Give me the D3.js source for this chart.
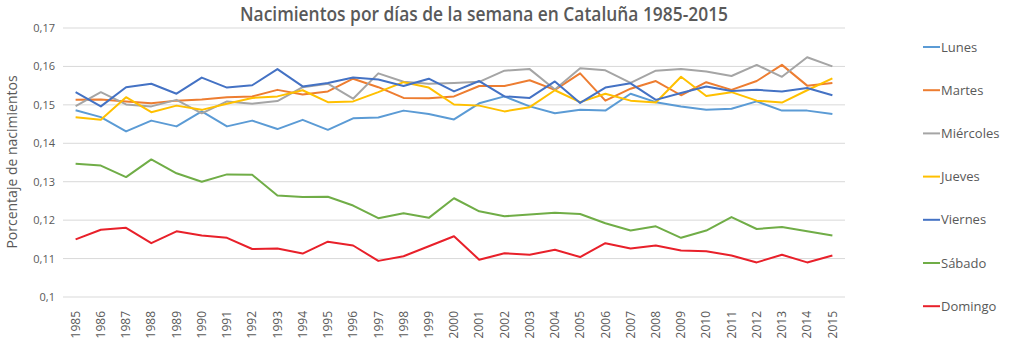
<!DOCTYPE html>
<html lang="es">
<head>
<meta charset="utf-8">
<title>Nacimientos por días de la semana</title>
<script src="https://cdn.jsdelivr.net/npm/d3@7"></script>
<style>
  body { margin: 0; background: #fff; }
  svg text { font-family: "Open Sans", "Noto Sans", sans-serif; fill: #595959; }
</style>
</head>
<body>
<svg id="chart" width="1024" height="348"></svg>
<script>
// data
var years = d3.range(1985, 2016).map(String);
var yTicks = [0.10, 0.11, 0.12, 0.13, 0.14, 0.15, 0.16, 0.17];

var lunes = [0.1486, 0.1468, 0.1431, 0.1459, 0.1444, 0.1483, 0.1444, 0.1459, 0.1437, 0.1461, 0.1435,
  0.1465, 0.1467, 0.1485, 0.1476, 0.1462, 0.1504, 0.1522, 0.1496, 0.1478, 0.1487,
  0.1485, 0.1529, 0.1507, 0.1496, 0.1487, 0.1490, 0.1509, 0.1485, 0.1485, 0.1476];
var martes = [0.1513, 0.1514, 0.1509, 0.1504, 0.1511, 0.1514, 0.1520, 0.1522, 0.1539, 0.1527, 0.1535,
  0.1568, 0.1546, 0.1518, 0.1517, 0.1522, 0.1549, 0.1549, 0.1564, 0.1539, 0.1582,
  0.1511, 0.1542, 0.1562, 0.1525, 0.1559, 0.1539, 0.1562, 0.1604, 0.1550, 0.1557];
var miercoles = [0.1497, 0.1533, 0.1501, 0.1496, 0.1513, 0.1478, 0.1509, 0.1503, 0.1510, 0.1546, 0.1555,
  0.1516, 0.1582, 0.1560, 0.1555, 0.1557, 0.1560, 0.1589, 0.1593, 0.1540, 0.1595,
  0.1590, 0.1557, 0.1589, 0.1593, 0.1587, 0.1575, 0.1604, 0.1573, 0.1624, 0.1600];
var jueves = [0.1468, 0.1461, 0.1520, 0.1481, 0.1498, 0.1487, 0.1503, 0.1518, 0.1522, 0.1538, 0.1507,
  0.1509, 0.1533, 0.1559, 0.1545, 0.1501, 0.1498, 0.1483, 0.1494, 0.1538, 0.1507,
  0.1529, 0.1511, 0.1506, 0.1573, 0.1523, 0.1533, 0.1511, 0.1506, 0.1538, 0.1569];
var viernes = [0.1533, 0.1496, 0.1546, 0.1555, 0.1529, 0.1571, 0.1545, 0.1551, 0.1593, 0.1548, 0.1557,
  0.1571, 0.1566, 0.1549, 0.1568, 0.1535, 0.1562, 0.1522, 0.1518, 0.1561, 0.1505,
  0.1545, 0.1556, 0.1513, 0.1531, 0.1548, 0.1536, 0.1539, 0.1535, 0.1544, 0.1525];
var sabado = [0.1347, 0.1342, 0.1312, 0.1358, 0.1322, 0.1300, 0.1319, 0.1318, 0.1264, 0.1260, 0.1261,
  0.1238, 0.1205, 0.1218, 0.1206, 0.1257, 0.1223, 0.1210, 0.1215, 0.1219, 0.1216,
  0.1192, 0.1173, 0.1184, 0.1154, 0.1173, 0.1208, 0.1177, 0.1182, 0.1171, 0.1160];
var domingo = [0.1150, 0.1175, 0.1180, 0.1140, 0.1171, 0.1160, 0.1154, 0.1125, 0.1126, 0.1113, 0.1144,
  0.1134, 0.1094, 0.1106, 0.1132, 0.1158, 0.1097, 0.1114, 0.1110, 0.1123, 0.1104,
  0.1140, 0.1126, 0.1134, 0.1121, 0.1119, 0.1108, 0.1090, 0.1110, 0.1090, 0.1108];

var seriesNames = ["Lunes", "Martes", "Miércoles", "Jueves", "Viernes", "Sábado", "Domingo"];
var seriesColors = ["#5B9BD5", "#ED7D31", "#A5A5A5", "#FFC000", "#4472C4", "#70AD47", "#E8202A"];
var seriesValues = [lunes, martes, miercoles, jueves, viernes, sabado, domingo];

var series = seriesNames.map(function(name, i) {
  return { name: name, color: seriesColors[i], values: seriesValues[i] };
});

var svg = d3.select("#chart");
var plotLeft = 63, plotRight = 845, plotTop = 28, plotBottom = 297;

var x = d3.scaleBand().domain(years).range([plotLeft, plotRight]);
var y = d3.scaleLinear().domain([0.10, 0.17]).range([plotBottom, plotTop]);

// gridlines
svg.append("g")
  .selectAll("line")
  .data(yTicks)
  .enter().append("line")
  .attr("x1", plotLeft).attr("x2", plotRight)
  .attr("y1", function(d) { return y(d); })
  .attr("y2", function(d) { return y(d); })
  .attr("stroke", "#D9D9D9")
  .attr("stroke-width", 1);

// y axis labels
var yAxis = d3.axisLeft(y)
  .tickValues(yTicks)
  .tickSize(0)
  .tickPadding(8)
  .tickFormat(function(d) { return d3.format(".2~f")(d).replace(".", ","); });

svg.append("g")
  .attr("transform", "translate(" + plotLeft + ",0)")
  .call(yAxis)
  .call(function(g) { g.select(".domain").remove(); })
  .selectAll("text")
  .style("font-family", "'Open Sans', sans-serif")
  .style("font-size", "11px")
  .style("fill", "#595959");

// x axis labels
var xAxis = d3.axisBottom(x).tickSize(0).tickPadding(0);
svg.append("g")
  .attr("transform", "translate(0," + plotBottom + ")")
  .call(xAxis)
  .call(function(g) { g.select(".domain").remove(); })
  .selectAll("text")
  .attr("transform", "rotate(-90)")
  .attr("x", -14)
  .attr("y", 0)
  .attr("dy", "0.35em")
  .style("text-anchor", "end")
  .style("font-family", "'Open Sans', sans-serif")
  .style("font-size", "12px")
  .style("fill", "#595959");

// lines
var line = d3.line()
  .x(function(d, i) { return x(years[i]) + x.bandwidth() / 2; })
  .y(function(d) { return y(d); });

svg.append("g")
  .selectAll("path")
  .data(series)
  .enter().append("path")
  .attr("d", function(d) { return line(d.values); })
  .attr("fill", "none")
  .attr("stroke", function(d) { return d.color; })
  .attr("stroke-width", 2)
  .attr("stroke-linejoin", "round");

// y axis title
svg.append("text")
  .attr("transform", "translate(17,162) rotate(-90)")
  .attr("text-anchor", "middle")
  .style("font-size", "14px")
  .text("Porcentaje de nacimientos");

// title
svg.append("text")
  .attr("x", 484)
  .attr("y", 21)
  .attr("text-anchor", "middle")
  .attr("textLength", 488)
  .attr("lengthAdjust", "spacingAndGlyphs")
  .style("font-size", "19px")
  .style("font-weight", "600")
  .text("Nacimientos por días de la semana en Cataluña 1985-2015");

// legend
var legend = svg.append("g")
  .selectAll("g")
  .data(series)
  .enter().append("g")
  .attr("transform", function(d, i) { return "translate(923," + (47 + i * 43.2) + ")"; });

legend.append("line")
  .attr("x1", 0).attr("x2", 17)
  .attr("stroke", function(d) { return d.color; })
  .attr("stroke-width", 2);

legend.append("text")
  .attr("x", 18)
  .attr("dy", "0.35em")
  .style("font-size", "13px")
  .text(function(d) { return d.name; });
</script>
</body>
</html>
